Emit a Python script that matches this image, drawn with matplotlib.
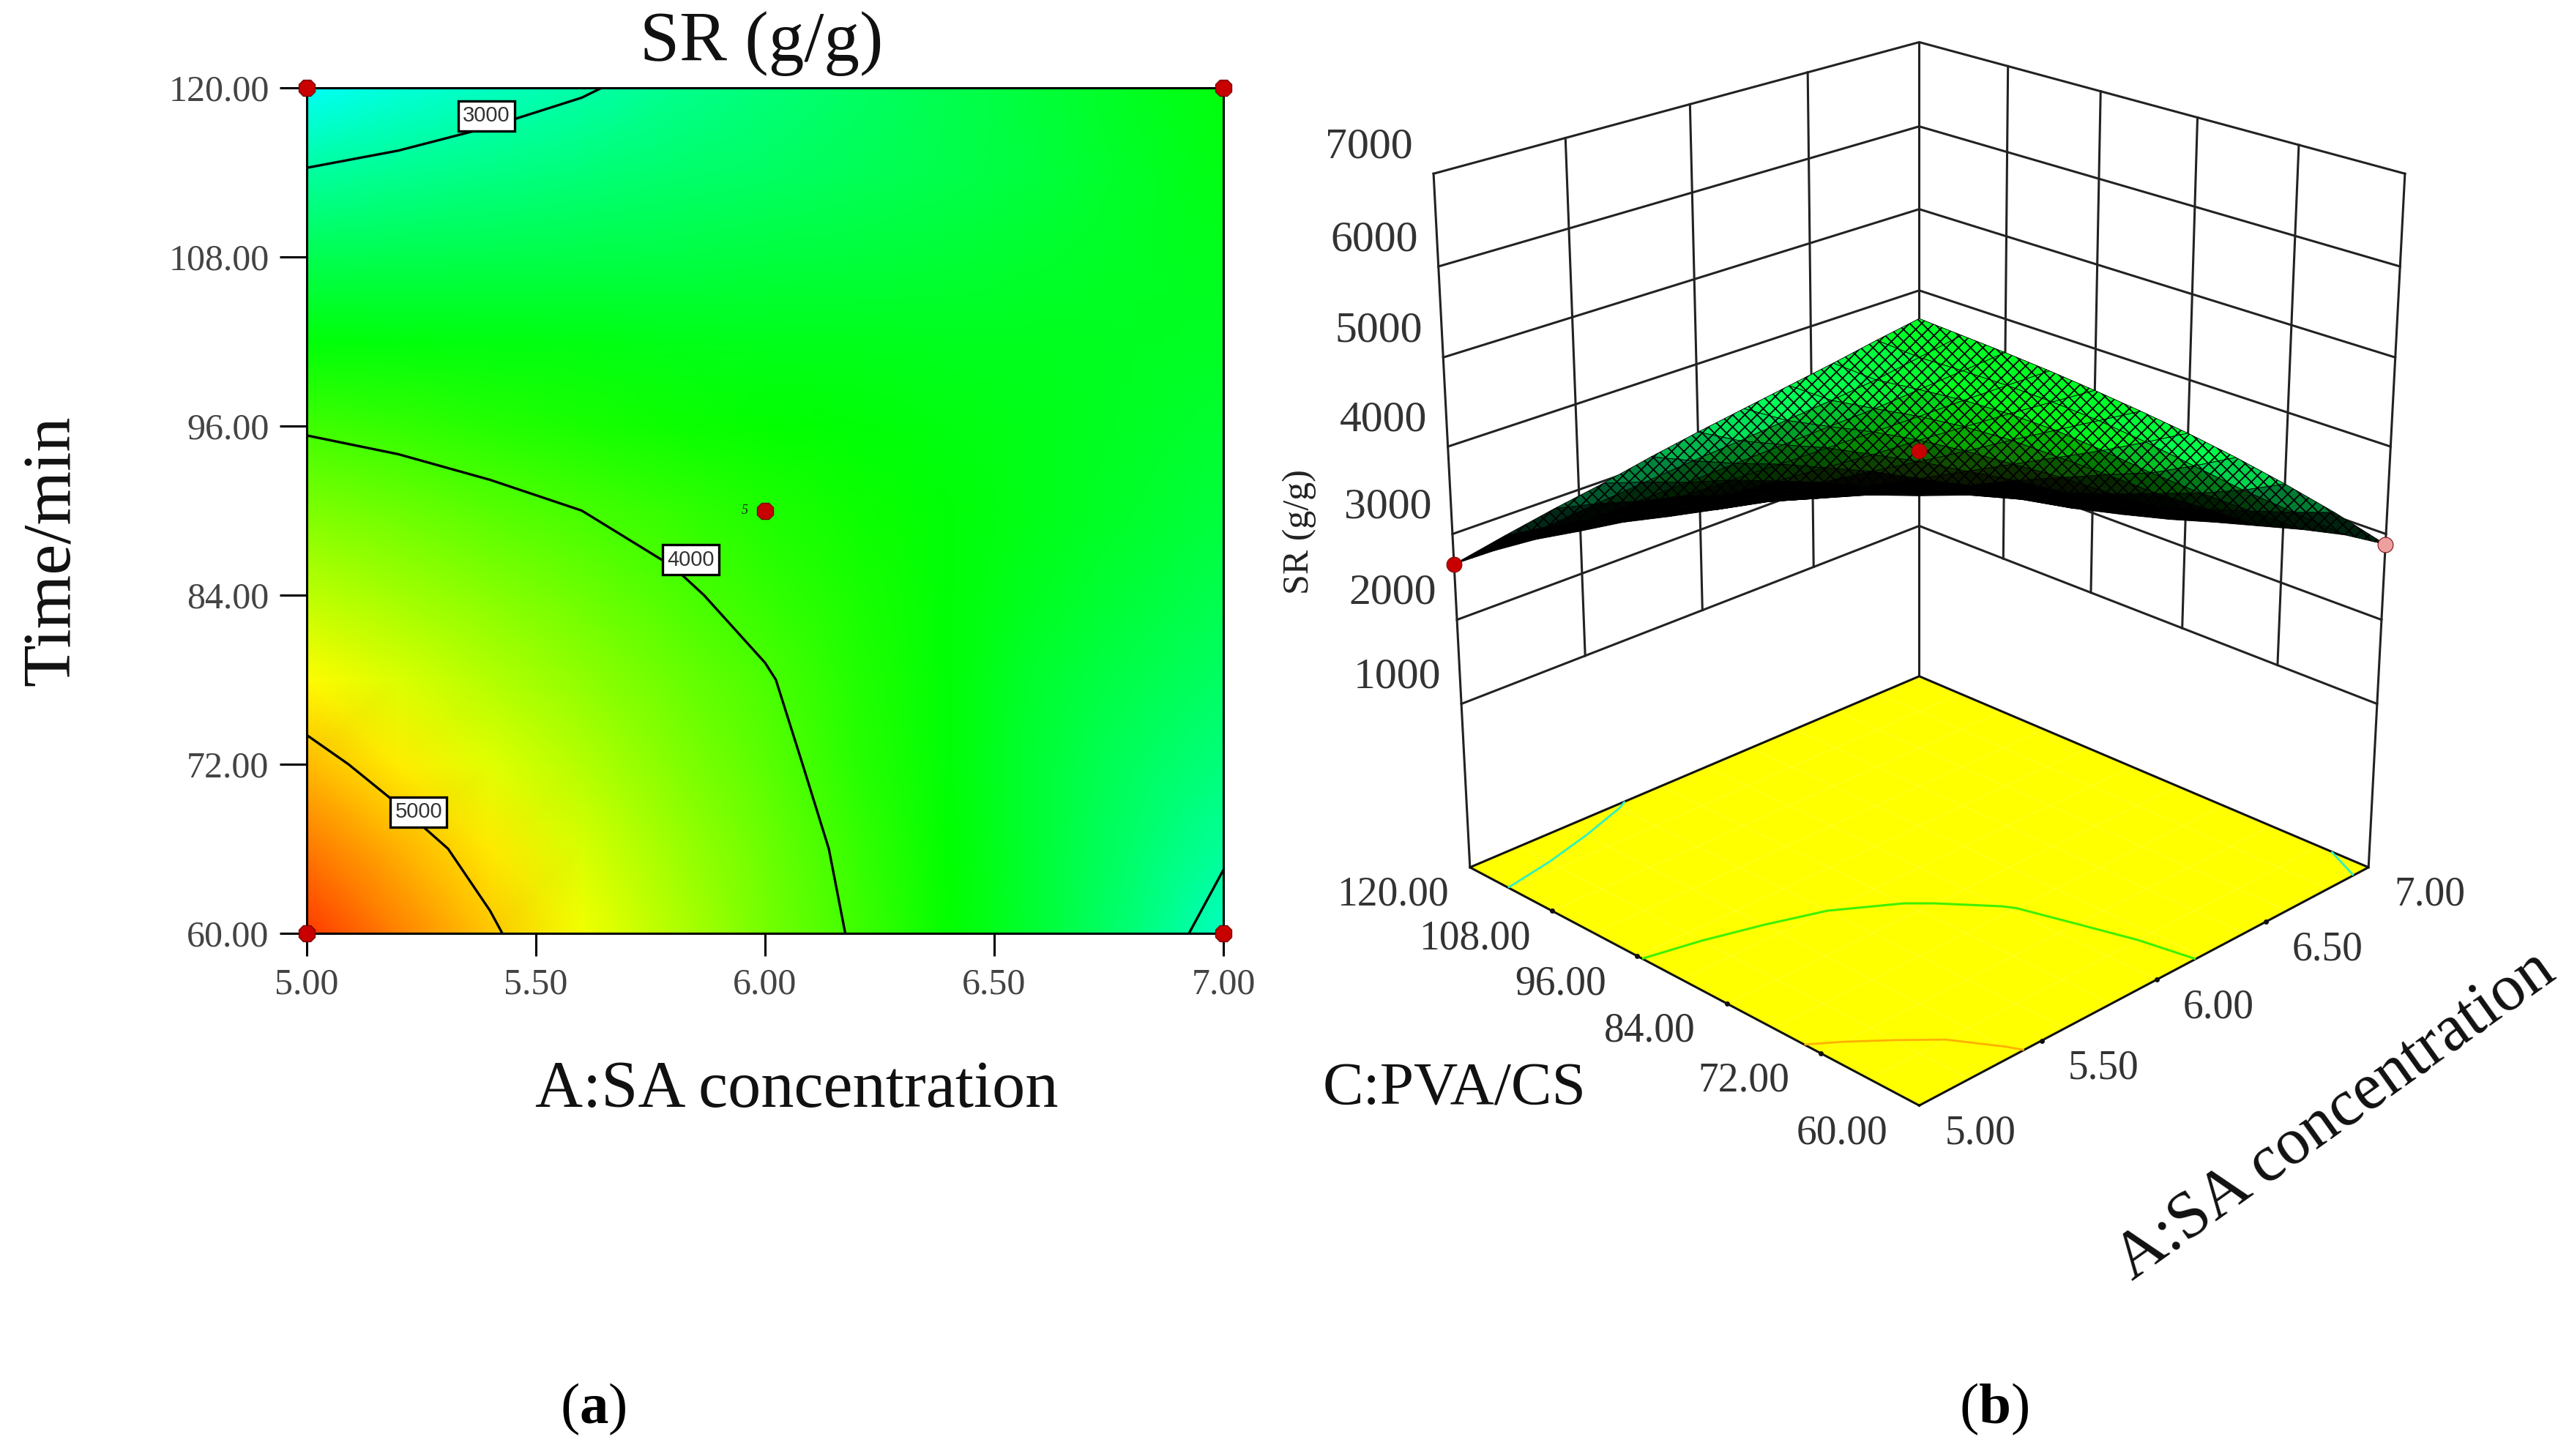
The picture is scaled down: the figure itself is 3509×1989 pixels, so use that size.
import numpy as np
import matplotlib
matplotlib.use("Agg")
import matplotlib.pyplot as plt
from matplotlib.colors import LinearSegmentedColormap, Normalize
from mpl_toolkits.mplot3d import proj3d

plt.rcParams["font.family"] = ["Liberation Serif", "DejaVu Serif"]
plt.rcParams["mathtext.fontset"] = "custom"
plt.rcParams["mathtext.rm"] = "Liberation Serif"
plt.rcParams["mathtext.bf"] = "Liberation Serif:bold"
plt.rcParams["hatch.color"] = "black"
plt.rcParams["hatch.linewidth"] = 1.3

# ─── DATA ───────────────────────────────────────────────────────────────────────
conc = [5.0, 5.2, 5.4, 5.6, 5.8, 6.0, 6.2, 6.4, 6.6, 6.8, 7.0]
time_min = [60, 66, 72, 78, 84, 90, 96, 102, 108, 114, 120]
# one row per time, one column per concentration
sr = [
    [5650, 5340, 5040, 4740, 4470, 4210, 3970, 3720, 3470, 3200, 2880],
    [5380, 5130, 4890, 4630, 4380, 4160, 3930, 3700, 3470, 3250, 3040],
    [5100, 4880, 4670, 4470, 4270, 4090, 3870, 3670, 3470, 3300, 3170],
    [4810, 4640, 4480, 4320, 4170, 4020, 3850, 3680, 3500, 3380, 3280],
    [4520, 4400, 4280, 4160, 4040, 3920, 3800, 3680, 3560, 3460, 3370],
    [4240, 4160, 4080, 4000, 3920, 3830, 3750, 3680, 3600, 3520, 3440],
    [3970, 3920, 3860, 3810, 3760, 3710, 3680, 3640, 3600, 3550, 3500],
    [3660, 3650, 3640, 3620, 3600, 3590, 3580, 3570, 3570, 3560, 3550],
    [3360, 3370, 3380, 3390, 3410, 3430, 3450, 3470, 3510, 3550, 3590],
    [3020, 3080, 3140, 3190, 3240, 3280, 3330, 3380, 3440, 3530, 3620],
    [2650, 2770, 2880, 2975, 3090, 3190, 3280, 3370, 3460, 3560, 3650],
]
levels = [3000, 4000, 5000]
level_labels = ["3000", "4000", "5000"]
label_conc = [5.392, 5.838, 5.244]
label_time = [118.0, 86.5, 68.6]
design_conc = [5.0, 7.0, 5.0, 7.0, 6.0]
design_time = [120, 120, 60, 60, 90]
dots3d_conc = [5.0, 6.0, 7.0]
dots3d_time = [120, 90, 60]
dots3d_sr = [2650, 3950, 2880]
dots3d_col = ["#c80000", "#c80000", "#eca0a0"]

conc_ticks = [5.0, 5.5, 6.0, 6.5, 7.0]
time_ticks = [60, 72, 84, 96, 108, 120]
sr_ticks = [1000, 2000, 3000, 4000, 5000, 6000, 7000]
# ────────────────────────────────────────────────────────────────────────────────

W, H = 3509, 1989
FLOOR = -1000
ELEV, AZIM = 23, -135
BOX_Z = 1.14

A, T = np.meshgrid(conc, time_min)
Z = np.array(sr, dtype=float)

cmap = LinearSegmentedColormap.from_list("de", ["#00ffff", "#00ff00", "#ffff00", "#ff0000"])
norm = Normalize(2600, 5900)


def rect(x0, y0, x1, y1):
    return [x0 / W, 1 - y1 / H, (x1 - x0) / W, (y1 - y0) / H]


def ftext(x, y, s, **kw):
    kw.setdefault("ha", "center")
    kw.setdefault("va", "center")
    fig.text(x / W, 1 - y / H, s, **kw)


fig = plt.figure(figsize=(W / 100, H / 100), dpi=100, facecolor="white")

# ─── (a) contour map ────────────────────────────────────────────────────────────
ax = fig.add_axes(rect(419, 120, 1671, 1275))
ax.pcolormesh(A, T, Z, cmap=cmap, norm=norm, shading="gouraud")
ax.contour(A, T, Z, levels=levels, colors="black", linewidths=2.4)
for s, x, y in zip(level_labels, label_conc, label_time):
    ax.text(x, y, s, family="Liberation Sans", fontsize=21, color="#333333", ha="center", va="center",
            bbox=dict(fc="white", ec="black", lw=2.4, boxstyle="square,pad=0.22"))
ax.plot(design_conc, design_time, ls="none", marker="8", ms=17, mfc="#c80000", mec="#7a0000", mew=1, clip_on=False, zorder=5)
ax.text(5.955, 90, "5", fontsize=13, style="italic", color="#222222", ha="center", va="center")
ax.set_xlim(5, 7)
ax.set_ylim(60, 120)
ax.set_xticks(conc_ticks)
ax.set_xticklabels([f"{v:.2f}" for v in conc_ticks])
ax.set_yticks(time_ticks)
ax.set_yticklabels([f"{v:.2f}" for v in time_ticks])
ax.tick_params(axis="x", length=22, width=2.2, labelsize=36, pad=12, labelcolor="#444444")
ax.tick_params(axis="y", length=27, width=2.2, labelsize=36, pad=10, labelcolor="#444444")
for sp in ax.spines.values():
    sp.set_linewidth(2.2)

ftext(1040, 60, "SR (g/g)", fontsize=70, color="#111111")
ftext(1088, 1490, "A:SA concentration", fontsize=65, color="#111111")
ftext(72, 752, "Time/min", fontsize=68, rotation=90, color="#111111")

# ─── (b) response surface ───────────────────────────────────────────────────────
ax3 = fig.add_axes(rect(1805, -44, 3395, 1546), projection="3d")
ax3.computed_zorder = False
ax3.set_axis_off()
ax3.set_proj_type("persp", focal_length=0.6)
ax3.view_init(elev=ELEV, azim=AZIM)
ax3.set_box_aspect((1, 1, BOX_Z))

LINE = dict(color="#222222", lw=2.2, zorder=1)
# walls
for z in sr_ticks:
    ax3.plot([5, 7, 7], [120, 120, 60], [z, z, z], **LINE)
for c in conc_ticks[1:-1]:
    ax3.plot([c, c], [120, 120], [sr_ticks[0], sr_ticks[-1]], **LINE)
for t in time_ticks[1:-1]:
    ax3.plot([7, 7], [t, t], [sr_ticks[0], sr_ticks[-1]], **LINE)
ax3.plot([5, 5], [120, 120], [FLOOR, sr_ticks[-1]], **LINE)
ax3.plot([7, 7], [120, 120], [FLOOR, sr_ticks[-1]], **LINE)
ax3.plot([7, 7], [60, 60], [FLOOR, sr_ticks[-1]], **LINE)

# floor with the projected contours
ax3.plot_surface(A, T, np.full(Z.shape, FLOOR), color="#ffff00", shade=False, edgecolor="none", zorder=2)
ax3.plot([5, 7, 7, 5, 5], [60, 60, 120, 120, 60], [FLOOR] * 5, color="#111111", lw=2.2, zorder=3)
ax3.contour(A, T, Z, levels=[3000], zdir="z", offset=FLOOR, colors="#30f0c0", linewidths=2, zorder=3)
ax3.contour(A, T, Z, levels=[4000], zdir="z", offset=FLOOR, colors="#40f000", linewidths=2.2, zorder=3)
ax3.contour(A, T, Z, levels=[5000], zdir="z", offset=FLOOR, colors="#ffb000", linewidths=2, zorder=3)

# small tick marks along the two front floor edges
ax3.plot(conc_ticks[1:-1], [60] * 3, [FLOOR] * 3, ls="none", marker="o", ms=4, color="#111111", zorder=3)
ax3.plot([5] * 4, time_ticks[1:-1], [FLOOR] * 4, ls="none", marker="o", ms=4, color="#111111", zorder=3)

# the mesh reads as black where the surface turns edge-on to the viewer
dz_t, dz_c = np.gradient(Z, 6.0, 0.2)
zscale = BOX_Z / (sr_ticks[-1] - FLOOR)
nx, ny = -dz_c * 2 * zscale, -dz_t * 60 * zscale
e, a = np.radians(ELEV), np.radians(AZIM)
facing = (nx * np.cos(e) * np.cos(a) + ny * np.cos(e) * np.sin(a) + np.sin(e)) / np.sqrt(nx ** 2 + ny ** 2 + 1)
bright = np.clip((facing - 0.12) / 0.22, 0, 1)
rgba = cmap(norm(Z))
rgba[..., :3] *= bright[..., None]
ax3.plot_surface(A, T, Z, facecolors=rgba, shade=False, edgecolor="black", linewidth=0.6, hatch="xx",
                 rstride=1, cstride=1, zorder=4)

for x, y, z, col in zip(dots3d_conc, dots3d_time, dots3d_sr, dots3d_col):
    ax3.plot([x], [y], [z], ls="none", marker="o", ms=15, mfc=col, mec="#801010", mew=0.8, zorder=5)

ax3.set_xlim(5, 7)
ax3.set_ylim(60, 120)
ax3.set_zlim(FLOOR, sr_ticks[-1])


def label3d(x, y, z, s, dx, dy, **kw):
    px, py, _ = proj3d.proj_transform(x, y, z, ax3.get_proj())
    ax3.annotate(s, (px, py), xytext=(dx, dy), textcoords="offset pixels", annotation_clip=False,
                 ha=kw.pop("ha", "center"), va="center", color="#333333", **kw)


for z in sr_ticks:
    label3d(5, 120, z, str(z), -28, 36, fontsize=43, ha="right")
for c in conc_ticks:
    label3d(c, 60, FLOOR, f"{c:.2f}", 84, -38, fontsize=40)
for t in time_ticks:
    label3d(5, t, FLOOR, f"{t:.2f}", -105, -38, fontsize=40)

ftext(1775, 726, "SR (g/g)", fontsize=36, rotation=90, color="#222222")
ftext(1987, 1489, "C:PVA/CS", fontsize=60, color="#111111")
ftext(3190, 1525, "A:SA concentration", fontsize=65, rotation=35.5, color="#111111")

ftext(810, 1925, r"($\mathbf{a}$)", fontsize=57, color="black")
ftext(2724, 1925, r"($\mathbf{b}$)", fontsize=57, color="black")

fig.savefig("out.png", dpi=100)
